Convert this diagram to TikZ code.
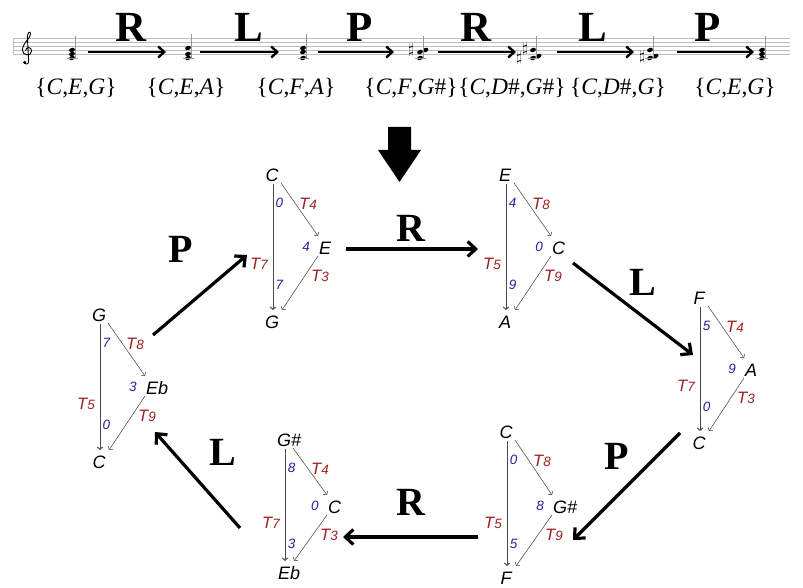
\documentclass[tikz,border=0pt]{standalone}
\usepackage{fontspec}
\setmainfont{Liberation Serif}
\newfontfamily\hel{Liberation Sans}
\usetikzlibrary{arrows.meta,calc}
\definecolor{tred}{RGB}{160,30,30}
\definecolor{tblue}{RGB}{35,35,160}
\definecolor{staffgray}{RGB}{190,190,190}
\definecolor{tgray}{RGB}{75,75,75}
\newcommand\Tl[1]{{\fontsize{16.5}{16}\selectfont T}{\fontsize{13.5}{13}\selectfont #1}}
\newcommand\tri[9]{%
 \node[notename] (t#1) at (#2,#3) {#7};
 \node[notename,anchor=west] (m#1) at (#6,#4) {#8};
 \node[notename] (b#1) at (#2,#5) {#9};
 \draw[vline] ($(t#1)+(1,9)$) -- ($(b#1)+(1,-12)$);
 \draw[dline] ($(t#1)+(9,8)$) -- ($(m#1.west)+(-1,-12)$);
 \draw[dline] ($(m#1.west)+(-1,8)$) -- ($(b#1)+(10,-12)$);
 \xdef\cL{#2}\xdef\cyt{#3}\xdef\cym{#4}\xdef\cxm{#6}%
}
\newcommand\trilab[6]{%
 \node[bnum] at ({\cL+7.5},{\cyt+28}) {#1};
 \node[bnum] at ({\cxm-13},{\cym-1}) {#2};
 \node[bnum] at ({\cL+7.5},{\cym+37}) {#3};
 \node[tlab] at ({\cL+36},{\cyt+29}) {\Tl{#4}};
 \node[tlab] at ({\cL-13},{\cym+16}) {\Tl{#5}};
 \node[tlab] at ({\cxm+1},{\cym+28}) {\Tl{#6}};
}
\newcommand\nh[2]{\fill[rotate around={20:(#1,#2)}] (#1,#2) ellipse (3.0 and 2.1);}
\newcommand\shp[2]{\node[inner sep=0,font=\fontsize{14}{14}\selectfont] at (#1,#2) {$\sharp$};}
\newcommand\stemat[3]{\draw[stemline] (#1,#2) -- (#1,#3);}
\newcommand\ledger[1]{\draw[stemline] ({#1-5.5},58) -- ({#1+5.5},58);}
\tikzset{
 notename/.style={inner sep=0,font=\hel\itshape\fontsize{18}{18}\selectfont},
 bnum/.style={inner sep=0,text=tblue,font=\hel\itshape\fontsize{13.5}{13}\selectfont},
 tlab/.style={inner sep=0,text=tred,font=\hel\itshape},
 vline/.style={draw=tgray,line width=1pt,-{Straight Barb[length=2.4pt,width=5.5pt]}},
 dline/.style={draw=tgray,line width=0.55pt,-{Straight Barb[length=2.4pt,width=5.5pt]}},
 bigarrow/.style={line width=3.2pt,-{Straight Barb[length=8pt,width=15pt]}},
 toparrow/.style={line width=2.4pt,-{Straight Barb[length=6pt,width=11pt]}},
 oplab/.style={inner sep=0,font=\bfseries\fontsize{40}{40}\selectfont},
 topop/.style={inner sep=0,font=\bfseries\fontsize{43}{43}\selectfont},
 setlab/.style={inner sep=0,anchor=base,font=\fontsize{23.5}{24}\selectfont},
 staffline/.style={draw=staffgray,line width=0.6pt},
 stemline/.style={draw=staffgray!80!black,line width=0.6pt},
}
\begin{document}
\begin{tikzpicture}[x=1pt,y=-1pt]
\useasboundingbox (0,0) rectangle (803,588);
% staff
\foreach \yy in {38,42,46,50,54} \draw[staffline] (13,\yy) -- (790,\yy);
\draw[staffline] (13,38) -- (13,54);
% treble clef
\draw[line width=0.9pt] (24.5,63) .. controls (27,65.5) and (29.3,63) .. (28.6,60) -- (27.4,37) .. controls (27.2,33) and (30,30.5) .. (30.6,33.5) .. controls (31.2,38) and (23,42) .. (22.4,50) .. controls (22,55.5) and (31.5,57) .. (31.6,51) .. controls (31.8,47) and (26,46) .. (25.6,50.8);
\fill (24.6,62.4) circle (1.7);
% chords
\nh{72}{58}\nh{72}{54}\nh{72}{50}\stemat{74.8}{58}{36}\ledger{72}
\nh{188}{58}\nh{188}{54}\nh{188}{48}\stemat{190.8}{58}{34}\ledger{188}
\nh{303}{58}\nh{303}{52}\nh{303}{48}\stemat{305.8}{58}{34}\ledger{303}
\nh{420}{58}\nh{420}{52}\nh{425.6}{50}\stemat{422.8}{58}{36}\ledger{420}\shp{411}{50}
\nh{533}{58}\nh{538.6}{56}\nh{533}{50}\stemat{535.8}{58}{36}\ledger{533}\shp{525}{49}\shp{519}{58}
\nh{650}{58}\nh{655.6}{56}\nh{650}{50}\stemat{652.8}{58}{36}\ledger{650}\shp{642}{57}
\nh{762}{58}\nh{762}{54}\nh{762}{50}\stemat{764.8}{58}{36}\ledger{762}
% top arrows
\coordinate (a1) at (88,52);  \coordinate (a2) at (166,52);
\coordinate (a3) at (200,52); \coordinate (a4) at (279,52);
\coordinate (a5) at (318,52); \coordinate (a6) at (394,52);
\coordinate (a7) at (438,52); \coordinate (a8) at (516,52);
\coordinate (a9) at (557,52); \coordinate (a10) at (634,52);
\coordinate (a11) at (677,52);\coordinate (a12) at (754,52);
\draw[toparrow] (a1) -- (a2);
\draw[toparrow] (a3) -- (a4);
\draw[toparrow] (a5) -- (a6);
\draw[toparrow] (a7) -- (a8);
\draw[toparrow] (a9) -- (a10);
\draw[toparrow] (a11) -- (a12);
\node[topop] (o1) at (131,27) {R};
\node[topop] (o2) at (249,27) {L};
\node[topop] (o3) at (360,27) {P};
\node[topop] (o4) at (476,27) {R};
\node[topop] (o5) at (593,27) {L};
\node[topop] (o6) at (708,27) {P};
% set labels
\node[setlab] (s1) at (76,95) {\{\textit{C},\textit{E},\textit{G}\}};
\node[setlab] (s2) at (186,95) {\{\textit{C},\textit{E},\textit{A}\}};
\node[setlab] (s3) at (296,95) {\{\textit{C},\textit{F},\textit{A}\}};
\node[setlab] (s4) at (411,95) {\{\textit{C},\textit{F},\textit{G}\#\}};
\node[setlab] (s5) at (512,95) {\{\textit{C},\textit{D}\#,\textit{G}\#\}};
\node[setlab] (s6) at (618,95) {\{\textit{C},\textit{D}\#,\textit{G}\}};
\node[setlab] (s7) at (735,95) {\{\textit{C},\textit{E},\textit{G}\}};
% big down arrow
\fill (388,127) -- (411,127) -- (411,150) -- (421,150) -- (399.5,182) -- (378,150) -- (388,150) -- cycle;
% triangles
\tri{1}{272}{175}{248}{322}{319}{C}{E}{G}
\trilab{0}{4}{7}{4}{7}{3}
\tri{2}{505}{175}{248}{322}{552}{E}{C}{A}
\trilab{4}{0}{9}{8}{5}{9}
\tri{3}{99}{315}{388}{462}{146}{G}{Eb}{C}
\trilab{7}{3}{0}{8}{5}{9}
\tri{4}{699}{298}{370}{443}{745}{F}{A}{C}
\trilab{5}{9}{0}{4}{7}{3}
\tri{5}{506}{432}{507}{578}{553}{C}{G\#}{F}
\trilab{0}{8}{5}{8}{5}{9}
\tri{6}{284}{440}{507}{573}{328}{G\rlap{\#}}{C}{E\rlap{b}}
\trilab{8}{0}{3}{4}{7}{3}
% cycle arrows
\coordinate (p1s) at (153,335); \coordinate (p1e) at (247,255);
\coordinate (r1s) at (346,249); \coordinate (r1e) at (478,249);
\coordinate (l1s) at (573,263); \coordinate (l1e) at (693,355);
\coordinate (p2s) at (680,433); \coordinate (p2e) at (573,540);
\coordinate (r2s) at (478,537); \coordinate (r2e) at (343,537);
\coordinate (l2s) at (240,528); \coordinate (l2e) at (155,432);
\draw[bigarrow] (p1s) -- (p1e);
\draw[bigarrow] (r1s) -- (r1e);
\draw[bigarrow] (l1s) -- (l1e);
\draw[bigarrow] (p2s) -- (p2e);
\draw[bigarrow] (r2s) -- (r2e);
\draw[bigarrow] (l2s) -- (l2e);
\node[oplab] (q1) at (181,249) {P};
\node[oplab] (q2) at (411,228) {R};
\node[oplab] (q3) at (643,282) {L};
\node[oplab] (q4) at (617,456) {P};
\node[oplab] (q5) at (411,502) {R};
\node[oplab] (q6) at (223,452) {L};
\end{tikzpicture}
\end{document}
